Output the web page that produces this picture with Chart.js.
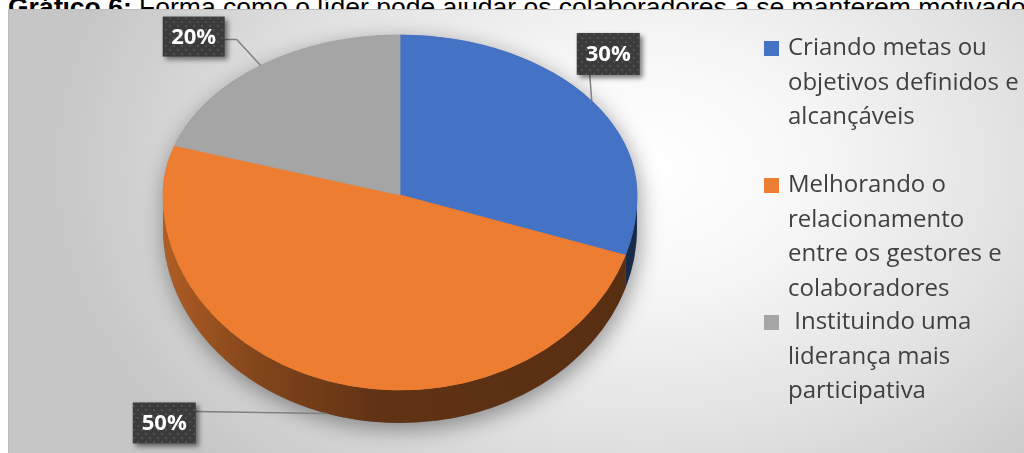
<!DOCTYPE html>
<html lang="pt">
<head>
<meta charset="utf-8">
<script src="https://cdn.jsdelivr.net/npm/chart.js@4.4.0/dist/chart.umd.min.js"></script>
<style>
  html, body { margin: 0; padding: 0; width: 1024px; height: 453px; overflow: hidden; background: #ffffff; }
  #title {
    position: absolute; left: 8px; top: 0; height: 20px; white-space: nowrap;
    font-family: "Liberation Sans", Arial, sans-serif; font-size: 26.5px; color: #000;
  }
  #title span { position: absolute; left: 0; top: 7px; line-height: 0; }
  #frame {
    position: absolute; left: 8px; top: 9px; width: 1030px; height: 450px;
    box-sizing: border-box; border: 1px solid #bdbdbd;
    background: radial-gradient(ellipse 58% 95% at 62% 35%, #ffffff 0%, #f8f8f8 25%, #e2e2e2 62%, #c6c6c6 100%);
  }
  #chart { position: absolute; left: 0; top: 0; }
  .item {
    position: absolute; left: 788px; white-space: pre;
    font-family: "Open Sans", sans-serif; font-size: 24px; line-height: 34.5px; color: #404040;
  }
  .item i { position: absolute; left: -24px; top: 12px; width: 15px; height: 15px; }
</style>
</head>
<body>
<div id="title"><span><b>Gráfico 6:</b> Forma como o líder pode ajudar os colaboradores a se manterem motivados</span></div>
<div id="frame"></div>
<canvas id="chart" width="1024" height="453"></canvas>
<div id="legend"></div>
<script>
// Responses: how the leader can help staff stay motivated (share of answers, %)
const categories = [
  "Criando metas ou objetivos definidos e alcançáveis",
  "Melhorando o relacionamento entre os gestores e colaboradores",
  " Instituindo uma liderança mais participativa"
];
const legendLines = [
  ["Criando metas ou", "objetivos definidos e", "alcançáveis"],
  ["Melhorando o", "relacionamento", "entre os gestores e", "colaboradores"],
  [" Instituindo uma", "liderança mais", "participativa"]
];
const values = [30, 50, 20];
const sliceColors = ["#4472c4", "#ed7d31", "#a5a5a5"];

// 3D look of the pie: the far half is flatter than the near half (perspective)
const PIE_CENTER_Y = 195;   // screen y of the pie hub
const BACK_RY = 160;        // vertical radius of the far half
const FRONT_RY = 195;       // vertical radius of the near half
const DEPTH = 33;           // thickness of the pie wall

// legend item tops (text block)
const legendTops = [29, 166, 303];

const chartWidth = 1024, chartHeight = 453;

function shade(hex, f) {
  const n = parseInt(hex.slice(1), 16);
  const r = Math.round(((n >> 16) & 255) * f);
  const g = Math.round(((n >> 8) & 255) * f);
  const b = Math.round((n & 255) * f);
  return `rgb(${r},${g},${b})`;
}

function geometry(chart) {
  const a = chart.getDatasetMeta(0).data[0];
  return { cx: a.x, cy: PIE_CENTER_Y, srcY: a.y, rx: a.outerRadius, ryB: BACK_RY, ryF: FRONT_RY, d: DEPTH };
}

// dotted fill for the value boxes
function dotPattern(ctx) {
  const c = document.createElement('canvas');
  c.width = 8; c.height = 8;
  const p = c.getContext('2d');
  p.fillStyle = '#3b3b3b'; p.fillRect(0, 0, 8, 8);
  p.fillStyle = '#505050';
  p.fillRect(1, 1, 2, 2); p.fillRect(5, 5, 2, 2);
  return ctx.createPattern(c, 'repeat');
}

// where each value box sits relative to its slice anchor, and how its leader leaves the box
const labelPlacement = [
  { dx: -15, dy: -68, w: 63, h: 42, from: 'bottom', fx: 13 },
  { dx: -194, dy: -11, w: 63, h: 41, from: 'right', fy: 9 },
  { dx: -98, dy: -49, w: 62, h: 40, from: 'right', fy: 23, elbow: 12 }
];

// applies the squash for one half of the top face
function halfTransform(ctx, g, ry, upper) {
  ctx.beginPath();
  if (upper) ctx.rect(0, 0, chartWidth, g.cy + 0.5);
  else ctx.rect(0, g.cy - 0.5, chartWidth, chartHeight);
  ctx.clip();
  ctx.translate(0, g.cy);
  ctx.scale(1, ry / g.rx);
  ctx.translate(0, -g.srcY);
}

const pieTilt = {
  id: 'pieTilt',
  beforeDatasetsDraw(chart) {
    const ctx = chart.ctx;
    const arcs = chart.getDatasetMeta(0).data;
    const g = geometry(chart);

    // soft shadow under the disc
    ctx.save();
    ctx.shadowColor = 'rgba(0,0,0,0.40)';
    ctx.shadowBlur = 22;
    ctx.shadowOffsetX = 2;
    ctx.shadowOffsetY = 6;
    ctx.fillStyle = '#777';
    ctx.beginPath();
    ctx.ellipse(g.cx, g.cy, g.rx, g.ryB, 0, Math.PI, Math.PI * 2, false);
    ctx.lineTo(g.cx + g.rx, g.cy + g.d);
    ctx.ellipse(g.cx, g.cy + g.d, g.rx, g.ryF, 0, 0, Math.PI, false);
    ctx.closePath();
    ctx.fill();
    ctx.restore();

    // near walls of every slice that faces the viewer
    arcs.forEach((arc, i) => {
      const col = sliceColors[i];
      for (let k = -1; k <= 1; k++) {
        const lo = Math.max(arc.startAngle, 2 * Math.PI * k);
        const hi = Math.min(arc.endAngle, 2 * Math.PI * k + Math.PI);
        if (hi <= lo) continue;
        const grad = ctx.createLinearGradient(g.cx - g.rx, 0, g.cx + g.rx, 0);
        grad.addColorStop(0, shade(col, 0.74));
        grad.addColorStop(0.2, shade(col, 0.55));
        grad.addColorStop(0.45, shade(col, 0.41));
        grad.addColorStop(1, shade(col, 0.37));
        ctx.beginPath();
        ctx.ellipse(g.cx, g.cy, g.rx, g.ryF, 0, lo, hi, false);
        ctx.ellipse(g.cx, g.cy + g.d, g.rx, g.ryF, 0, hi, lo, true);
        ctx.closePath();
        ctx.fillStyle = grad;
        ctx.fill();
      }
    });

    // far half of the top face: Chart.js draws the slices through this squash
    ctx.save();
    halfTransform(ctx, g, g.ryB, true);
  },
  afterDatasetsDraw(chart) {
    const ctx = chart.ctx;
    ctx.restore();
    const meta = chart.getDatasetMeta(0);
    const arcs = meta.data;
    const g = geometry(chart);

    // near half of the top face
    ctx.save();
    halfTransform(ctx, g, g.ryF, false);
    meta.controller.draw();
    ctx.restore();

    const total = values.reduce((s, v) => s + v, 0);
    const pattern = dotPattern(ctx);

    arcs.forEach((arc, i) => {
      const mid = (arc.startAngle + arc.endAngle) / 2;
      const s = Math.sin(mid);
      const ax = g.cx + g.rx * Math.cos(mid);
      let ay = g.cy + (s < 0 ? g.ryB : g.ryF) * s;
      if (s > 0.3) ay += g.d;
      const pl = labelPlacement[i];
      const bx = ax + pl.dx, by = ay + pl.dy;

      // leader line
      ctx.save();
      ctx.strokeStyle = '#808080';
      ctx.lineWidth = 1.5;
      ctx.beginPath();
      if (pl.from === 'bottom') {
        ctx.moveTo(bx + pl.fx, by + pl.h);
      } else {
        ctx.moveTo(bx + pl.w, by + pl.fy);
        if (pl.elbow) ctx.lineTo(bx + pl.w + pl.elbow, by + pl.fy);
      }
      ctx.lineTo(ax, ay);
      ctx.stroke();
      ctx.restore();

      // value box
      ctx.save();
      ctx.shadowColor = 'rgba(0,0,0,0.5)';
      ctx.shadowBlur = 5;
      ctx.shadowOffsetX = 3;
      ctx.shadowOffsetY = 3;
      ctx.fillStyle = pattern;
      ctx.fillRect(bx, by, pl.w, pl.h);
      ctx.restore();

      ctx.save();
      ctx.fillStyle = '#ffffff';
      ctx.font = 'bold 22px "Open Sans", sans-serif';
      ctx.textAlign = 'center';
      ctx.textBaseline = 'middle';
      ctx.fillText(Math.round(values[i] / total * 100) + '%', bx + pl.w / 2, by + pl.h / 2 + 1);
      ctx.restore();
    });
  }
};

new Chart(document.getElementById('chart'), {
  type: 'pie',
  data: {
    labels: categories,
    datasets: [{
      data: values,
      backgroundColor: sliceColors,
      borderColor: sliceColors,
      borderWidth: 1,
      clip: false
    }]
  },
  options: {
    responsive: false,
    devicePixelRatio: 1,
    animation: false,
    events: [],
    radius: 237,
    layout: { padding: { left: 0, right: 224, top: 0, bottom: 0 } },
    plugins: { legend: { display: false }, tooltip: { enabled: false } }
  },
  plugins: [pieTilt]
});

// legend: one block per category, wrapped as in the source layout
const legendEl = document.getElementById('legend');
legendLines.forEach((lines, i) => {
  const d = document.createElement('div');
  d.className = 'item';
  d.style.top = legendTops[i] + 'px';
  d.textContent = lines.join('\n');
  const sw = document.createElement('i');
  sw.style.background = sliceColors[i];
  d.appendChild(sw);
  legendEl.appendChild(d);
});
</script>
</body>
</html>
